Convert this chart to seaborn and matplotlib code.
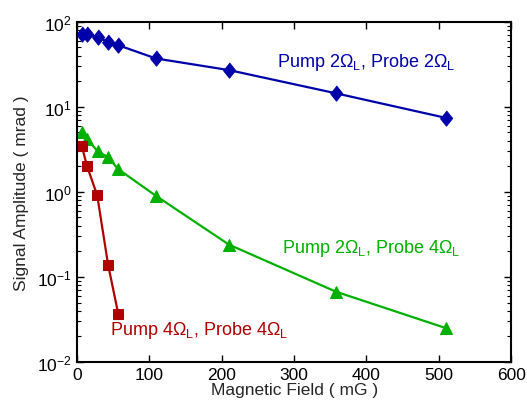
import numpy as np
import pandas as pd
import matplotlib
matplotlib.use("Agg")
import matplotlib.pyplot as plt
import seaborn as sns

# magnetic field (mG) and signal amplitude (mrad)
field_2_2 = [6.5, 14, 28.5, 43, 57, 109, 210, 358, 510]
amp_2_2 = [72, 72, 65.5, 58, 53, 37, 27, 14.4, 7.4]

field_2_4 = [6.5, 14, 28.5, 43, 57, 109, 210, 358, 510]
amp_2_4 = [5.0, 4.2, 3.0, 2.55, 1.85, 0.9, 0.24, 0.067, 0.025]

field_4_4 = [6.5, 14, 28, 43, 57]
amp_4_4 = [3.5, 2.0, 0.91, 0.14, 0.037]

blue = '#0000aa'
green = '#00b000'
red = '#b00000'

sns.set_style('ticks')
plt.rcParams['font.family'] = ['Liberation Sans', 'DejaVu Sans']
plt.rcParams['mathtext.fontset'] = 'custom'
plt.rcParams['mathtext.rm'] = 'Liberation Sans'
plt.rcParams['mathtext.it'] = 'Liberation Sans'

fig = plt.figure(figsize=(5.27, 4.10), dpi=100)
ax = fig.add_axes([0.146, 0.1146, 0.824, 0.83])

diamond = [(0, 1), (0.8, 0), (0, -1), (-0.8, 0)]

sns.lineplot(x=field_2_2, y=amp_2_2, ax=ax, color=blue, lw=1.6, sort=False,
             marker=diamond, markersize=11, markeredgecolor=blue, markerfacecolor=blue)
sns.lineplot(x=field_2_4, y=amp_2_4, ax=ax, color=green, lw=1.6, sort=False,
             marker='^', markersize=9, markeredgecolor=green, markerfacecolor=green)
sns.lineplot(x=field_4_4, y=amp_4_4, ax=ax, color=red, lw=1.6, sort=False,
             marker='s', markersize=7, markeredgecolor=red, markerfacecolor=red)

ax.set_yscale('log')
ax.set_xlim(0, 600)
ax.set_ylim(1e-2, 1e2)
ax.set_xticks([0, 100, 200, 300, 400, 500, 600])

for s in ax.spines.values():
    s.set_visible(True)
    s.set_linewidth(1.5)
    s.set_color('black')
ax.tick_params(which='both', direction='in', top=True, right=True, labelsize=12.5, colors='black')
ax.tick_params(which='major', length=5, width=1)
ax.tick_params(which='minor', length=3, width=0.8)

ax.set_xlabel('Magnetic Field ( mG )', fontsize=12.5, labelpad=0)
ax.set_ylabel('Signal Amplitude ( mrad )', fontsize=12.5, labelpad=6)

ax.text(276, 34, r'Pump 2$\Omega_{\rm L}$, Probe 2$\Omega_{\rm L}$', color=blue, fontsize=13, va='center')
ax.text(283, 0.22, r'Pump 2$\Omega_{\rm L}$, Probe 4$\Omega_{\rm L}$', color=green, fontsize=13, va='center')
ax.text(46, 0.024, r'Pump 4$\Omega_{\rm L}$, Probe 4$\Omega_{\rm L}$', color=red, fontsize=13, va='center')

fig.savefig('out.png', dpi=100)
